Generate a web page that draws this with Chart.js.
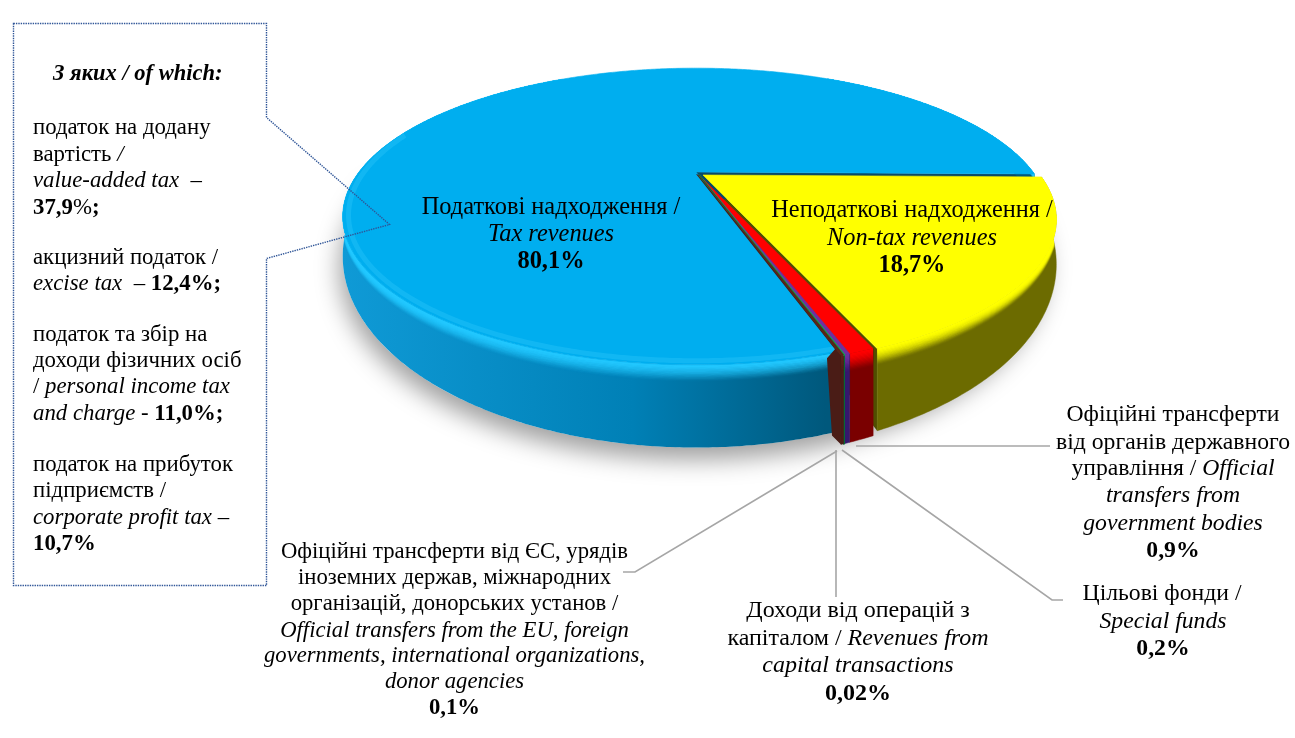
<!DOCTYPE html>
<html><head><meta charset="utf-8">
<script src="https://cdn.jsdelivr.net/npm/chart.js@4"></script>
<style>
html,body{margin:0;padding:0;background:#fff;width:1295px;height:738px;overflow:hidden}
#wrap{position:relative;width:1295px;height:738px}
canvas{position:absolute;left:0;top:0}
.t{position:absolute;white-space:pre;font-family:"Liberation Serif",serif;line-height:26px;color:#000}
.c{transform:translateX(-50%)}
</style></head><body>
<div id="wrap"><canvas id="c" width="1295" height="738"></canvas></div>
<script>
const categories=["Податкові надходження / Tax revenues","Неподаткові надходження / Non-tax revenues","Офіційні трансферти від органів державного управління / Official transfers from government bodies","Цільові фонди / Special funds","Доходи від операцій з капіталом / Revenues from capital transactions","Офіційні трансферти від ЄС, урядів іноземних держав, міжнародних організацій, донорських установ / Official transfers from the EU, foreign governments, international organizations, donor agencies"];
const values=[80.1,18.7,0.9,0.2,0.02,0.1];
const topColors=["#00AEEF","#FFFF00","#FF0000","#7030A0","#00B050","#5A2418"];
const wallColors=["#0079AD","#6C6B00","#7A0000","#35186E","#00703A","#4A1C16"];
const rimColors=["#22C8FF","#FFFF00","#FF0000","#7030A0","#00B050","#5A2418"];

// text lines: [x, y-centre, centred?, font px, html]
const lines=[
[53,73,0,22.5,"<b><i>З яких / of which:</i></b>"],
[33,127,0,22.8,"податок на додану"],
[33,154,0,22.8,"вартість <i>/</i>"],
[33,180,0,22.8,"<i>value-added tax  –</i>"],
[33,207,0,22.8,"<b>37,9</b>%<b>;</b>"],
[33,257,0,22.8,"акцизний податок /"],
[33,283,0,22.8,"<i>excise tax  – </i><b>12,4%;</b>"],
[33,334,0,22.8,"податок та збір на"],
[33,360,0,22.8,"доходи фізичних осіб"],
[33,386,0,22.8,"/ <i>personal income tax</i>"],
[33,413,0,22.8,"<i>and charge - </i><b>11,0%;</b>"],
[33,464,0,22.8,"податок на прибуток"],
[33,490,0,22.8,"підприємств /"],
[33,517,0,22.8,"<i>corporate profit tax –</i>"],
[33,543,0,22.8,"<b>10,7%</b>"],
[551,206,1,24.4,"Податкові надходження /"],
[551,233,1,24.4,"<i>Tax revenues</i>"],
[551,260,1,24.4,"<b>80,1%</b>"],
[912,209,1,24.3,"Неподаткові надходження /"],
[912,237,1,24.3,"<i>Non-tax revenues</i>"],
[912,264,1,24.3,"<b>18,7%</b>"],
[1173,413,1,23.7,"Офіційні трансферти"],
[1173,441,1,23.7,"від органів державного"],
[1173,467,1,23.7,"управління / <i>Official</i>"],
[1173,494,1,23.7,"<i>transfers from</i>"],
[1173,522,1,23.7,"<i>government bodies</i>"],
[1173,549,1,23.7,"<b>0,9%</b>"],
[1162,592,1,23.7,"Цільові фонди /"],
[1163,620,1,23.7,"<i>Special funds</i>"],
[1163,647,1,23.7,"<b>0,2%</b>"],
[858,609,1,24,"Доходи від операцій з"],
[858,637,1,24,"капіталом / <i>Revenues from</i>"],
[858,664,1,24,"<i>capital transactions</i>"],
[858,692,1,24,"<b>0,02%</b>"],
[454.5,551,1,22.7,"Офіційні трансферти від ЄС, урядів"],
[454.5,577,1,22.7,"іноземних держав, міжнародних"],
[454.5,603,1,22.7,"організацій, донорських установ /"],
[454.5,630,1,22.7,"<i>Official transfers from the EU, foreign</i>"],
[454.5,655,1,22.7,"<i>governments, international organizations,</i>"],
[454.5,681,1,22.7,"<i>donor agencies</i>"],
[454.5,707,1,22.7,"<b>0,1%</b>"]
];
const wrap=document.getElementById('wrap');
lines.forEach(l=>{const d=document.createElement('div');d.className='t'+(l[2]?' c':'');d.style.left=l[0]+'px';d.style.top=(l[1]-13)+'px';d.style.fontSize=l[3]+'px';d.innerHTML=l[4];wrap.appendChild(d);});

const leaders=[[[856,446],[1050,446]],[[842,450],[1052,600],[1063,600]],[[836,450],[836,597]],[[837,451],[635,572],[623,572]]];
const callout=[[13,23],[266,23],[266,117],[389,224],[266,258],[266,585],[13,585]];

const K=0.30, D=Math.PI/180;
const pie3d={id:'pie3d',
 beforeDatasetDraw(chart,args){
  const ctx=chart.ctx, arcs=args.meta.data, a0=arcs[0], R=a0.outerRadius;
  const topOff=i=>i===0?[0,0]:i===1?[7,3]:[3,3];
  const botOff=i=>i===0?[0,0]:i===1?[7,8]:[3,13];
  const topP=(a,i,r=1)=>{const o=topOff(i),u=r*Math.cos(a),v=r*Math.sin(a),d=1-K*v;return [a0.x+o[0]+R*u/d, a0.y-197+o[1]+R*0.4006*v/d];};
  const botP=(a,i,r=1)=>{const o=botOff(i),u=r*Math.cos(a),v=r*Math.sin(a),d=1-K*v;const t=topP(a,i,r);return [a0.x+o[0]+R*u/d, Math.max(t[1],a0.y-170+o[1]+R*0.5163*v/d)];};
  const path=(pts,close)=>{ctx.beginPath();pts.forEach((p,i)=>i?ctx.lineTo(p[0],p[1]):ctx.moveTo(p[0],p[1]));if(close)ctx.closePath();};
  const angles=i=>{const s=arcs[i].startAngle,e=arcs[i].endAngle,n=Math.max(2,Math.ceil((e-s)/(0.5*D))),r=[];for(let j=0;j<=n;j++)r.push(s+(e-s)*j/n);return r;};
  // shadow: only below the top rim
  ctx.save();
  ctx.shadowColor='rgba(0,0,0,0.38)';ctx.shadowBlur=24;ctx.shadowOffsetY=12;ctx.shadowOffsetX=-3;
  const ell=[];for(let a=0;a<360;a+=2){const b=botP(a*D,0);ell.push([b[0],Math.sin(a*D)<-0.2?b[1]+14:b[1]]);}
  path(ell,true);ctx.fillStyle='#fff';ctx.fill();ctx.restore();
  const face=(i,a,col)=>{path([topP(0,i,0),topP(a,i),botP(a,i),botP(0,i,0)],true);ctx.fillStyle=col;ctx.fill();};
  const wall=i=>{
    const A=angles(i),T=A.map(a=>topP(a,i)),B=A.map(a=>botP(a,i));
    const poly=T.concat(B.slice().reverse());
    ctx.save();path(poly,true);
    if(i===0){const g=ctx.createLinearGradient(343,0,826,0);g.addColorStop(0,'#0F9AD6');g.addColorStop(0.6,'#0080B6');g.addColorStop(1,'#00587C');ctx.fillStyle=g;}
    else ctx.fillStyle=wallColors[i];
    ctx.fill();ctx.strokeStyle=i===0?'rgba(0,0,0,0)':wallColors[i];ctx.lineWidth=i===4?1.6:0.5;ctx.stroke();
    ctx.clip();
    const steps=14,maxF=0.2;
    for(let s=steps;s>=0;s--){const f=maxF*s/steps;
      path(T.map((p,j)=>[p[0]+(B[j][0]-p[0])*f,p[1]+(B[j][1]-p[1])*f]));
      ctx.strokeStyle=rimColors[i];ctx.globalAlpha=Math.pow(1-s/steps,1.3);ctx.lineWidth=2.4;ctx.stroke();}
    ctx.restore();
  };
  const sector=i=>{
    path([topP(0,i,0)].concat(angles(i).map(a=>topP(a,i))),true);
    ctx.fillStyle=topColors[i];ctx.fill();ctx.strokeStyle=topColors[i];ctx.lineWidth=i===4?1.6:0.6;ctx.stroke();
  };
  // yellow cut face (shows as a dark line beside the red wedge)
  face(1,arcs[1].endAngle,'#4F4E00');
  // blue slice
  face(0,arcs[0].endAngle,'#0B4A66');
  wall(0);sector(0);
  // soft highlight inside the front and left rim only
  const front=angles(0);
  path(front.slice(0,front.findIndex(a=>Math.sin(a)<-0.3)).map(a=>topP(a,0,0.985)));
  ctx.strokeStyle='rgba(60,210,255,0.28)';ctx.lineWidth=5;ctx.stroke();
  // brown cut face of the thin wedges, facing the blue slice
  const fA=arcs[5].endAngle,pt=topP(fA,5),pb=botP(fA,5),ap=topP(0,5,0),W=14;
  ctx.fillStyle='#4A1C16';
  path([pt,pb,[pb[0]-W+5,pb[1]-9],[pt[0]-W,pt[1]+3],[pt[0]-6,pt[1]-6],[ap[0]-3,ap[1]-1],ap],true);ctx.fill();
  for(const i of [2,3,4,5]){wall(i);}
  for(const i of [2,3,4,5]){sector(i);}
  wall(1);sector(1);
  return false;
 },
 afterDraw(chart){
  const ctx=chart.ctx;ctx.save();
  ctx.strokeStyle='#A6A6A6';ctx.lineWidth=1.6;
  leaders.forEach(l=>{ctx.beginPath();l.forEach((p,i)=>i?ctx.lineTo(p[0],p[1]):ctx.moveTo(p[0],p[1]));ctx.stroke();});
  ctx.strokeStyle='#2F5597';ctx.lineWidth=1.4;ctx.setLineDash([1.4,1]);
  ctx.beginPath();callout.forEach((p,i)=>i?ctx.lineTo(p[0]+.5,p[1]+.5):ctx.moveTo(p[0]+.5,p[1]+.5));ctx.closePath();ctx.stroke();
  ctx.restore();
 }
};
new Chart(document.getElementById('c'),{
 type:'pie',
 data:{labels:categories,datasets:[{data:values,backgroundColor:topColors,borderWidth:0}]},
 options:{responsive:false,animation:false,rotation:90.8-values[0]/values.reduce((a,b)=>a+b,0)*360,
  layout:{padding:{left:359,right:262,top:32,bottom:32}},
  plugins:{legend:{display:false},tooltip:{enabled:false},title:{display:false}}},
 plugins:[pie3d]
});
</script></body></html>
